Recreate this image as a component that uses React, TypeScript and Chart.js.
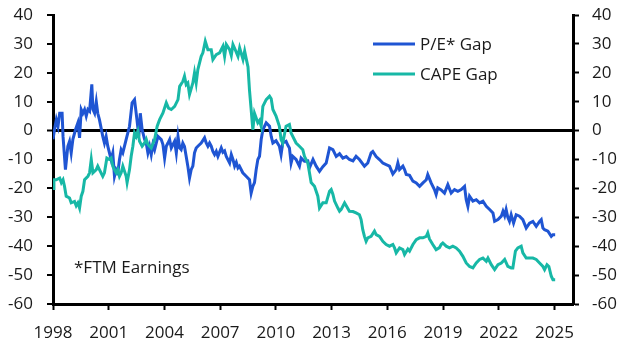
import React, { useEffect, useRef } from "react";
import { Chart, registerables } from "chart.js";

Chart.register(...registerables);

const peDates = [
  1998.0, 1998.08, 1998.18, 1998.27, 1998.36, 1998.49, 1998.54, 1998.67, 1998.8, 1998.89, 1998.98,
  1999.07, 1999.21, 1999.34, 1999.43, 1999.52, 1999.61, 1999.7, 1999.79, 1999.88, 1999.97,
  2000.09, 2000.15, 2000.24, 2000.33, 2000.41, 2000.5, 2000.68, 2000.77, 2000.86, 2000.95,
  2001.04, 2001.13, 2001.22, 2001.31, 2001.4, 2001.49, 2001.58, 2001.67, 2001.76, 2001.94,
  2002.12, 2002.26, 2002.39, 2002.52, 2002.62, 2002.7, 2002.8, 2002.93,
  2003.02, 2003.11, 2003.2, 2003.29, 2003.38, 2003.47, 2003.65, 2003.83, 2003.92,
  2004.01, 2004.1, 2004.19, 2004.28, 2004.37, 2004.55, 2004.64, 2004.73, 2004.82, 2004.9, 2004.99,
  2005.08, 2005.17, 2005.26, 2005.35, 2005.44, 2005.53, 2005.62, 2005.71, 2005.8, 2005.98,
  2006.16, 2006.25, 2006.34, 2006.43, 2006.52, 2006.61, 2006.7, 2006.79, 2006.88,
  2007.06, 2007.15, 2007.24, 2007.33, 2007.51, 2007.6, 2007.69, 2007.78, 2007.87, 2007.96,
  2008.04, 2008.22, 2008.4, 2008.58, 2008.67, 2008.76, 2008.85, 2008.94,
  2009.03, 2009.12, 2009.21, 2009.3, 2009.48, 2009.66, 2009.75, 2009.84,
  2010.01, 2010.19, 2010.28, 2010.37, 2010.55, 2010.64, 2010.73, 2010.82, 2010.91,
  2011.09, 2011.27, 2011.36, 2011.54, 2011.72, 2011.81,
  2012.0, 2012.17, 2012.35, 2012.53, 2012.71, 2012.89,
  2013.07, 2013.25, 2013.43, 2013.61, 2013.79, 2013.96,
  2014.15, 2014.32, 2014.5, 2014.77, 2014.95,
  2015.13, 2015.22, 2015.4, 2015.58, 2015.76, 2015.94,
  2016.12, 2016.3, 2016.48, 2016.57, 2016.66, 2016.84, 2016.93,
  2017.02, 2017.2, 2017.38, 2017.56, 2017.74, 2017.92,
  2018.1, 2018.18, 2018.36, 2018.54, 2018.63, 2018.72, 2018.9,
  2019.08, 2019.26, 2019.44, 2019.62, 2019.8, 2019.98,
  2020.16, 2020.25, 2020.34, 2020.43, 2020.61, 2020.79, 2020.97,
  2021.15, 2021.33, 2021.51, 2021.69, 2021.78, 2021.96,
  2022.14, 2022.23, 2022.32, 2022.4, 2022.49, 2022.58, 2022.67, 2022.8, 2022.94,
  2023.12, 2023.3, 2023.48, 2023.66, 2023.84,
  2024.02, 2024.2, 2024.29, 2024.38, 2024.47, 2024.65, 2024.83, 2024.92, 2025.04,
];
const peValues = [
  -3, 0.3, 3.8, 1.5, 6, 6, -2, -13.5, -5.4, -3.7, -7.7,
  -3, 0.3, 2.7, -2.5, 7.3, 6, 7.3, 5, 7.3, 6.7,
  16, 7.3, 6, 10, 6, 3.8, -2, -4.3, -2, -5.4,
  -7.7, -10, -7.7, -15.8, -13.5, -14.6, -10, -6.6, -7.7, -3,
  1.5, 9.6, 10.7, 3.8, -2, 6, 0.3, -3,
  -4.3, -7.7, -5.4, -8.3, -4.8, -6.6, -2, -3.1, -4.8,
  -9.5, -5.4, -4.3, -3.1, -6, -3.7, -7.7, -2, -6, -6.6, -4.3,
  -5.5, -8.9, -12.3, -16.4, -13.5, -12.3, -7.7, -6, -5.4, -4.3,
  -2.5, -4.3, -5.4, -4.3, -5.4, -7.2, -8.3, -7.2, -8.9,
  -6, -7.5, -7, -8.9, -11.2, -8.3, -10, -12.3, -11, -12.9,
  -12.3, -14.6, -15.8, -17, -21.6, -19.3, -18, -13.5,
  -10, -8.9, -3.1, 0.3, 2.7, 1.5, -2, -4.3,
  -3.5, -5.4, -8.3, -4.3, -3.7, -5, -6, -11.2, -8.9,
  -10, -12.3, -9.5, -10.6, -10.5, -12.9,
  -10, -12.3, -14.1, -12.5, -11.2, -6,
  -6.6, -8.9, -8, -9.5, -9, -10,
  -10.5, -8.9, -10, -12.3, -11.2,
  -7.7, -7.2, -9, -10, -11.2, -11.8,
  -12.3, -15, -13.5, -11.2, -13.5, -12.3, -13.5,
  -15.2, -15.5, -17.5, -18.1, -19.3, -18.1,
  -17, -15.2, -18.1, -20.4, -22.1, -19.8, -20.5,
  -21.6, -18.7, -21.6, -20.4, -21, -20.4,
  -19.3, -23.9, -26.2, -22.7, -24.4, -23.9, -25,
  -24.4, -26.2, -27.3, -28.5, -31.4, -30.8,
  -29.6, -27.9, -29.5, -27.3, -30, -31.4, -29.1, -32, -29.1,
  -29.6, -30.8, -33.7, -32, -31.4,
  -33.1, -31.4, -30.8, -33.7, -34.3, -34.8, -36.6, -36, -36,
];

const capeDates = [
  1998.0, 1998.05, 1998.18, 1998.36, 1998.45, 1998.54, 1998.62, 1998.71, 1998.89, 1998.98,
  1999.16, 1999.25, 1999.34, 1999.43, 1999.52, 1999.61, 1999.7, 1999.88, 1999.97,
  2000.06, 2000.15, 2000.33, 2000.41, 2000.5, 2000.68, 2000.77, 2000.9,
  2001.04, 2001.13, 2001.22, 2001.31, 2001.4, 2001.49, 2001.58, 2001.67, 2001.76, 2001.94, 2001.99,
  2002.12, 2002.21, 2002.3, 2002.39, 2002.48, 2002.57, 2002.66, 2002.8, 2002.93,
  2003.02, 2003.11, 2003.29, 2003.47, 2003.61, 2003.74, 2003.92,
  2004.1, 2004.22, 2004.37, 2004.55, 2004.73, 2004.82, 2004.99,
  2005.08, 2005.17, 2005.26, 2005.35, 2005.53, 2005.62, 2005.71, 2005.8, 2005.98,
  2006.07, 2006.2, 2006.34, 2006.52, 2006.61, 2006.79, 2006.97,
  2007.15, 2007.24, 2007.33, 2007.51, 2007.6, 2007.69, 2007.78, 2007.96,
  2008.05, 2008.23, 2008.32, 2008.4, 2008.5, 2008.58, 2008.67, 2008.76, 2008.85,
  2009.03, 2009.12, 2009.21, 2009.3, 2009.48, 2009.66, 2009.75, 2009.84,
  2010.01, 2010.19, 2010.28, 2010.37, 2010.55, 2010.73, 2010.82, 2010.91,
  2011.09, 2011.27, 2011.45, 2011.54, 2011.72, 2011.81, 2011.9,
  2012.08, 2012.26, 2012.35, 2012.53, 2012.71, 2012.89, 2012.98,
  2013.07, 2013.16, 2013.34, 2013.43, 2013.52, 2013.7, 2013.79, 2013.96,
  2014.15, 2014.32, 2014.5, 2014.59, 2014.68, 2014.77, 2014.86, 2014.95,
  2015.13, 2015.31, 2015.4, 2015.58, 2015.76, 2015.94,
  2016.12, 2016.3, 2016.39, 2016.48, 2016.66, 2016.84, 2016.93,
  2017.11, 2017.2, 2017.38, 2017.56, 2017.74, 2017.92,
  2018.1, 2018.18, 2018.27, 2018.45, 2018.63, 2018.81, 2018.9, 2018.99,
  2019.17, 2019.35, 2019.53, 2019.71, 2019.89,
  2020.07, 2020.25, 2020.43, 2020.61, 2020.79, 2020.97,
  2021.15, 2021.33, 2021.42, 2021.6, 2021.78, 2021.96,
  2022.14, 2022.32, 2022.49, 2022.67, 2022.76, 2022.9,
  2023.03, 2023.21, 2023.3, 2023.48, 2023.66, 2023.84,
  2024.02, 2024.2, 2024.38, 2024.47, 2024.6, 2024.7, 2024.83, 2024.92, 2025.04,
];
const capeValues = [
  -20, -17, -17, -16.4, -18, -17, -19.3, -22.7, -23.3, -25,
  -24.5, -26, -25, -26.8, -22.7, -21, -17, -15.8, -14.6,
  -10, -14.6, -13.5, -12.3, -13.5, -15.8, -14.6, -9.5,
  -10, -9.5, -12.3, -13.5, -14.6, -13.5, -15.8, -14.6, -12.3, -15.8, -18,
  -13.5, -8.9, -5.4, -0.8, -2, -0.2, -3.7, -5.4, -4.3,
  -3, -4.8, -6, -3.1, 1.5, 3.8, 6.1,
  9.6, 7.8, 7.3, 8.4, 10.7, 15.3, 17,
  18.8, 15.9, 16.5, 12.5, 16.5, 20, 16.5, 21.1, 25.7,
  26.9, 30.9, 28, 28, 24.6, 26.3, 26.9,
  29.2, 25.7, 29.8, 28, 26, 29.8, 28.5, 25.7,
  28.6, 24.6, 27.5, 25, 22, 14, 7.3, 0.3, 6,
  2.7, 3.5, 1.5, 8.4, 10.7, 11.9, 11, 7.3,
  5, 1.5, -3.1, -4.3, 1.5, 2.1, -0.8, -2,
  -4.3, -5.4, -6.6, -8.9, -11.2, -14.6, -18,
  -19.3, -22.7, -26.8, -25, -25, -21, -20.4,
  -22, -24.4, -26.8, -27.9, -27.3, -25, -26, -27.9,
  -28, -28.5, -29.1, -30.8, -34.3, -36.6, -38.3, -37.1,
  -36.6, -34.8, -36, -36.6, -38.3, -39.4,
  -40, -39.4, -40.6, -42.3, -40.6, -41.2, -42.9,
  -41, -41.7, -39.4, -37.7, -37.1, -37.1,
  -36.6, -35.4, -37.5, -39.4, -41.2, -40.5, -39.4, -38.9,
  -40, -40.6, -40, -40.6, -41.7,
  -43.5, -45.8, -47, -47.5, -45.8, -44.6,
  -44.1, -45.2, -44.1, -46.4, -48.1, -46.4,
  -45.8, -44.6, -47, -47.5, -47.5, -41.7,
  -40.6, -40, -42.3, -44.1, -44.1, -44.1,
  -44.6, -45.8, -47, -48.1, -46.4, -47, -50.4, -51.6, -51.6,
];

const xTicks = [1998, 2001, 2004, 2007, 2010, 2013, 2016, 2019, 2022, 2025];
const seriesNames = ["P/E* Gap", "CAPE Gap"];
const seriesColors = ["#1f55d3", "#17b8a6"];
const noteText = "*FTM Earnings";

const FONT = "'Open Sans', 'Noto Sans', sans-serif";

const overlayPlugin = {
  id: "overlay",
  afterDraw(chart: any) {
    const { ctx, chartArea } = chart;
    ctx.save();
    ctx.font = `17px ${FONT}`;
    ctx.textBaseline = "middle";
    ctx.fillStyle = "#1a1a1a";
    const lx = chartArea.left + 320;
    const ly = chartArea.top + 29;
    seriesNames.forEach((name, i) => {
      const y = ly + i * 30;
      ctx.strokeStyle = seriesColors[i];
      ctx.lineWidth = 3;
      ctx.beginPath();
      ctx.moveTo(lx, y);
      ctx.lineTo(lx + 42, y);
      ctx.stroke();
      ctx.fillText(name, lx + 47, y + 1);
    });
    ctx.fillText(noteText, chartArea.left + 21, chartArea.top + 253);
    ctx.restore();
  },
};

const fitY = (width: number) => (s: any) => {
  s.width = width;
  s.paddingTop = 0;
  s.paddingBottom = 0;
};

export default function App() {
  const ref = useRef<HTMLCanvasElement | null>(null);
  useEffect(() => {
    if (!ref.current) return;
    const tickFont = { family: FONT, size: 17 };
    const chart = new Chart(ref.current, {
      type: "line",
      data: {
        datasets: [
          {
            label: seriesNames[0],
            data: peDates.map((d, i) => ({ x: d, y: peValues[i] })),
            borderColor: seriesColors[0],
            borderWidth: 3,
            pointRadius: 0,
            tension: 0,
            order: 1,
            yAxisID: "y",
          },
          {
            label: seriesNames[1],
            data: capeDates.map((d, i) => ({ x: d, y: capeValues[i] })),
            borderColor: seriesColors[1],
            borderWidth: 3,
            pointRadius: 0,
            tension: 0,
            order: 0,
            yAxisID: "y",
          },
        ],
      },
      options: {
        animation: false,
        responsive: false,
        maintainAspectRatio: false,
        layout: { padding: { top: 15, left: 0, right: 0, bottom: 0 } },
        plugins: { legend: { display: false }, tooltip: { enabled: false } },
        scales: {
          x: {
            type: "linear",
            min: 1998,
            max: 2026,
            afterBuildTicks: (s: any) => {
              s.ticks = xTicks.map((v) => ({ value: v }));
            },
            afterFit: (s: any) => {
              s.height = 50;
            },
            ticks: {
              font: tickFont,
              color: "#1a1a1a",
              padding: 13,
              maxRotation: 0,
              autoSkip: false,
              callback: (v: any) => String(v),
            },
            grid: {
              drawOnChartArea: false,
              drawTicks: true,
              tickLength: 6,
              tickColor: "#000",
              tickWidth: 2,
            },
            border: { color: "#000", width: 3 },
          },
          y: {
            position: "left",
            min: -60,
            max: 40,
            afterFit: fitY(53),
            ticks: { stepSize: 10, font: tickFont, color: "#1a1a1a", padding: 14 },
            grid: {
              drawOnChartArea: true,
              color: (c: any) => (c.tick && c.tick.value === 0 ? "#000" : "rgba(0,0,0,0)"),
              lineWidth: (c: any) => (c.tick && c.tick.value === 0 ? 3 : 0),
              drawTicks: true,
              tickLength: 6,
              tickColor: "#000",
              tickWidth: 2,
            },
            border: { color: "#000", width: 3 },
          },
          y2: {
            position: "right",
            min: -60,
            max: 40,
            afterFit: fitY(57),
            ticks: { stepSize: 10, font: tickFont, color: "#1a1a1a", padding: 13 },
            grid: {
              drawOnChartArea: false,
              drawTicks: true,
              tickLength: 6,
              tickColor: "#000",
              tickWidth: 2,
            },
            border: { color: "#000", width: 3 },
          },
        },
      },
      plugins: [overlayPlugin],
    } as any);
    return () => chart.destroy();
  }, []);
  return (
    <div style={{ position: "fixed", left: 0, top: 0, width: 630, height: 354, background: "#fff" }}>
      <canvas ref={ref} width={630} height={354} style={{ width: 630, height: 354, display: "block" }} />
    </div>
  );
}
